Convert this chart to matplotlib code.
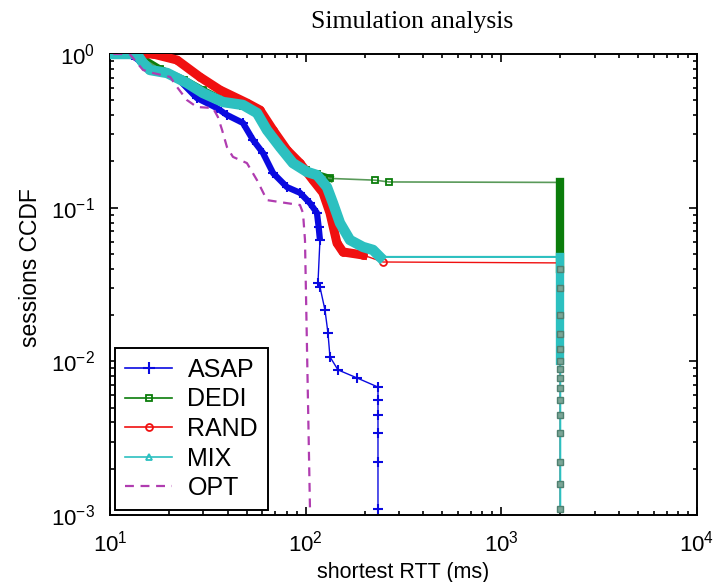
import matplotlib
matplotlib.use("Agg")
import matplotlib.pyplot as plt
from matplotlib.lines import Line2D

plt.rcParams['font.family'] = ['Liberation Sans', 'DejaVu Sans']
plt.rcParams['mathtext.fontset'] = 'custom'
plt.rcParams['mathtext.rm'] = 'Liberation Sans'
plt.rcParams['mathtext.it'] = 'Liberation Sans'

# ---- data ----
asap_x = [10.4, 13.0, 14.5, 18.0, 22.0, 27.8, 35.2, 39.6, 47.8, 53.8, 60.5, 68.1,
          80.3, 93.5, 105.2, 114.2, 116.5, 118.3, 115.6, 118.3, 125.5, 130.0, 133.1,
          146.2, 182.9, 234.2, 234.2, 234.2, 234.2, 234.2, 234.2]
asap_y = [1.0, 0.98, 0.88, 0.78, 0.70, 0.517, 0.445, 0.401, 0.356, 0.276, 0.227, 0.168,
          0.136, 0.125, 0.107, 0.0924, 0.075, 0.0616, 0.0324, 0.0305, 0.0216, 0.0153, 0.0107,
          0.0088, 0.0078, 0.0068, 0.0056, 0.0045, 0.0034, 0.0022, 0.0011]

dedi_x = [10.4, 14.0, 18.0, 24.0, 30.0, 38.0, 48.0, 56.0, 64.0, 74.0, 86.0, 100.0,
          114.0, 133.1, 226.0, 266.5, 2000, 2000, 2000, 2000, 2000, 2000, 2000, 2000,
          2000, 2000, 2000, 2000, 2000, 2000, 2000, 2000, 2000, 2000, 2000]
dedi_y = [1.0, 0.97, 0.80, 0.68, 0.58, 0.50, 0.46, 0.42, 0.33, 0.26, 0.20, 0.175,
          0.165, 0.155, 0.151, 0.147, 0.146, 0.12, 0.09, 0.06, 0.04, 0.03, 0.02,
          0.015, 0.012, 0.010, 0.0089, 0.0078, 0.0067, 0.0056, 0.0045, 0.0034,
          0.0022, 0.0016, 0.0011]

rand_x = [10.4, 16.6, 22.0, 28.8, 36.5, 50.1, 58.4, 68.1, 80.3, 93.5, 109.0, 122.6,
          133.1, 144.5, 155.1, 196.3, 248.3, 2000, 2000, 2000, 2000, 2000, 2000, 2000,
          2000, 2000, 2000]
rand_y = [1.0, 1.0, 0.914, 0.709, 0.583, 0.48, 0.432, 0.32, 0.237, 0.195, 0.151, 0.125,
          0.0924, 0.0589, 0.0515, 0.0492, 0.0443, 0.0437, 0.03, 0.02, 0.012, 0.0078,
          0.0056, 0.0045, 0.0034, 0.0022, 0.0011]

mix_x = [10.4, 13.7, 14.75, 16.0, 19.6, 24.7, 29.9, 37.8, 47.8, 56.4, 63.4, 73.9,
         86.1, 101.5, 114.2, 128.5, 137.9, 149.7, 168.4, 196.3, 220.8, 239.8, 2000,
         2000, 2000, 2000, 2000, 2000, 2000, 2000, 2000, 2000, 2000, 2000, 2000, 2000]
mix_y = [1.0, 1.0, 0.874, 0.787, 0.752, 0.648, 0.557, 0.487, 0.466, 0.413, 0.32, 0.248,
         0.195, 0.171, 0.163, 0.136, 0.107, 0.0795, 0.0616, 0.0555, 0.0531, 0.0478, 0.0478,
         0.04, 0.03, 0.02, 0.015, 0.012, 0.010, 0.0089, 0.0078, 0.0067, 0.0056, 0.0044,
         0.0033, 0.0011]

opt_x = [10.4, 12.6, 14.75, 16.6, 20.3, 22.0, 24.7, 27.8, 33.6, 35.6, 37.4, 39.6,
         42.5, 50.1, 56.4, 63.4, 80.3, 93.5, 96.9, 99.2, 105.2]
opt_y = [1.0, 1.0, 0.787, 0.752, 0.709, 0.61, 0.502, 0.452, 0.445, 0.389, 0.32, 0.248,
         0.214, 0.195, 0.151, 0.112, 0.107, 0.104, 0.0924, 0.0616, 0.0011]

labels = ['ASAP', 'DEDI', 'RAND', 'MIX', 'OPT']

# ---- style ----
c_asap = '#0a0ae0'
c_dedi = '#0b7d0b'
c_rand = '#f01010'
c_mix = '#2cc0c0'
c_opt = '#b03cb0'

fig = plt.figure(figsize=(7.22, 5.82), dpi=100)
ax = fig.add_axes([110/722, 1-515/582, 587/722, 461/582])

# ASAP
ax.plot(asap_x[:18], asap_y[:18], color=c_asap, lw=4.5, solid_capstyle='butt', zorder=2)
ax.plot(asap_x, asap_y, color=c_asap, lw=1, marker='+', ms=7, mew=1.5, zorder=2)
# DEDI
ax.plot(dedi_x[:14], dedi_y[:14], color=c_dedi, lw=5, zorder=3)
ax.plot(dedi_x[:17], dedi_y[:17], color='#5a9a5a', lw=1.2, zorder=3)
ax.plot(dedi_x[:17], dedi_y[:17], ls='none', marker='s', ms=5, mfc='none',
        mec=c_dedi, mew=1.3, zorder=3)
ax.plot(dedi_x[16:21], dedi_y[16:21], color=c_dedi, lw=6, zorder=3)
ax.plot(dedi_x[20:], dedi_y[20:], ls='none', marker='s', ms=5, mfc='#7aa596',
        mec='#4f8070', mew=1.0, zorder=7)
# RAND
ax.plot(rand_x[:16], rand_y[:16], color=c_rand, lw=6.5, zorder=4)
ax.plot(rand_x, rand_y, color=c_rand, lw=1, zorder=4)
ax.plot(rand_x[:17], rand_y[:17], ls='none', marker='o', ms=5, mfc='none',
        mec=c_rand, mew=1.3, zorder=4)
# MIX
ax.plot(mix_x[:22], mix_y[:22], color=c_mix, lw=7.5, zorder=5)
ax.plot(mix_x, mix_y, color=c_mix, lw=1.5, zorder=5)
ax.plot(mix_x[:23], mix_y[:23], ls='none', marker='^', ms=5, mfc='none',
        mec=c_mix, mew=1.3, zorder=5)
ax.plot(mix_x[22:29], mix_y[22:29], color=c_mix, lw=6, zorder=5)
# OPT
ax.plot(opt_x, opt_y, color=c_opt, lw=1.6, ls=(0, (4, 3)), zorder=6)

ax.set_xscale('log')
ax.set_yscale('log')
ax.set_xlim(10, 1e4)
ax.set_ylim(1e-3, 1)

for s in ax.spines.values():
    s.set_linewidth(1.4)
ax.tick_params(which='both', direction='in', top=True, right=True, labelsize=16, width=1.2)
ax.tick_params(which='major', length=6)
ax.tick_params(axis='x', which='major', pad=11)
ax.tick_params(axis='y', which='major', pad=11)
ax.tick_params(which='minor', length=3)

ax.set_xlabel('shortest RTT (ms)', fontsize=15.5, labelpad=4)
ax.set_ylabel('sessions CCDF', fontsize=16.5)
ax.yaxis.set_label_coords(-0.116, 0.536)
fig.text(0.571, 0.962, 'Simulation analysis', fontsize=18.5, family='Liberation Serif',
         ha='center', va='center')

handles = [
    Line2D([], [], color=c_asap, lw=1.2, marker='+', ms=8, mew=1.5),
    Line2D([], [], color=c_dedi, lw=1.2, marker='s', ms=5, mfc='none', mew=1.3),
    Line2D([], [], color=c_rand, lw=1.2, marker='o', ms=5, mfc='none', mew=1.3),
    Line2D([], [], color=c_mix, lw=1.2, marker='^', ms=5, mfc='none', mew=1.3),
    Line2D([], [], color=c_opt, lw=1.6, ls=(0, (4, 3))),
]
leg = ax.legend(handles, labels, loc='lower left', bbox_to_anchor=(0.0, 0.0),
                fontsize=18, fancybox=False, framealpha=1, edgecolor='black',
                borderaxespad=0.2, handlelength=1.9, labelspacing=0.22,
                borderpad=0.4, handletextpad=0.6)
leg.get_frame().set_linewidth(1.4)

fig.savefig('out.png', dpi=100)
